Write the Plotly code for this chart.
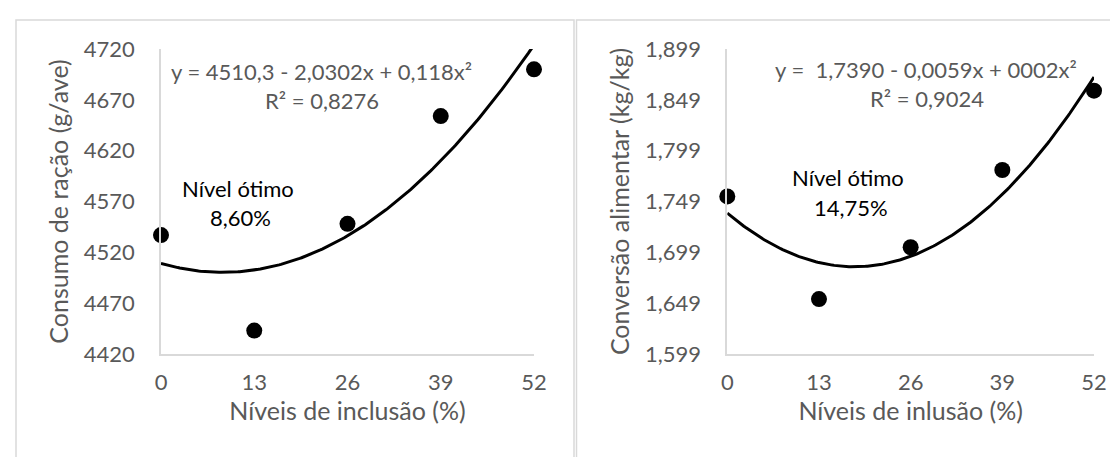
import numpy as np
import plotly.graph_objects as go

# ---- data ----
niveis = [0, 13, 26, 39, 52]
consumo = [4537, 4443, 4548, 4654, 4700]
conversao = [1.754, 1.653, 1.704, 1.780, 1.858]

x_ticks = [0, 13, 26, 39, 52]
y1_ticks = [4420, 4470, 4520, 4570, 4620, 4670, 4720]
y1_ticktext = ["4420", "4470", "4520", "4570", "4620", "4670", "4720"]
y2_ticks = [1.599, 1.649, 1.699, 1.749, 1.799, 1.849, 1.899]
y2_ticktext = ["1,599", "1,649", "1,699", "1,749", "1,799", "1,849", "1,899"]

eq1 = ["y = 4510,3 - 2,0302x + 0,118x²", "R² = 0,8276"]
eq2 = ["y =  1,7390 - 0,0059x + 0002x²", "R² = 0,9024"]
otimo1 = ["Nível ótimo", "8,60%"]
otimo2 = ["Nível ótimo", "14,75%"]

# polynomial (order 2) trendlines fitted to the data, as a spreadsheet does
xs = np.linspace(0, 52, 200)
c1 = np.polyfit(niveis, consumo, 2)
c2 = np.polyfit(niveis, conversao, 2)
trend1 = np.polyval(c1, xs)
trend2 = np.polyval(c2, xs)

W, H = 1118, 457
FONT = "Lato"
GREY = "#595959"
AX = "#d9d9d9"
FS = 22
FT = 25

fig = go.Figure()
for xa, ya, yv, tr in [("x", "y", consumo, trend1), ("x2", "y2", conversao, trend2)]:
    fig.add_trace(go.Scatter(x=xs, y=tr, mode="lines", xaxis=xa, yaxis=ya,
                             line=dict(color="black", width=3), showlegend=False,
                             hoverinfo="skip"))
    fig.add_trace(go.Scatter(x=niveis, y=yv, mode="markers", xaxis=xa, yaxis=ya,
                             marker=dict(color="black", size=16), showlegend=False,
                             cliponaxis=False))

def px(x):
    return x / W

def py(y):
    return 1 - y / H

ydom = [py(346), py(41)]
common_x = dict(range=[0, 52], tickvals=x_ticks, showgrid=False, zeroline=False,
                showline=True, linecolor=AX, linewidth=1.5, ticks="", automargin=False,
                tickfont=dict(family=FONT, size=FS, color=GREY), ticklabelstandoff=8,
                title_font=dict(family=FONT, size=FT, color=GREY), title_standoff=8)
common_y = dict(showgrid=False, zeroline=False, showline=True, linecolor=AX, linewidth=1.5,
                ticks="", automargin=False,
                tickfont=dict(family=FONT, size=FS, color=GREY), ticklabelstandoff=20,
                title_font=dict(family=FONT, size=FT, color=GREY), title_standoff=8)

fig.update_layout(
    width=W, height=H, margin=dict(l=0, r=0, t=0, b=0, autoexpand=False),
    paper_bgcolor="white", plot_bgcolor="white",
    xaxis=dict(domain=[px(153), px(526)], anchor="y",
               title_text="Níveis de inclusão (%)", **common_x),
    yaxis=dict(domain=ydom, anchor="x", range=[4420, 4720], tickvals=y1_ticks,
               ticktext=y1_ticktext, title_text="Consumo de ração (g/ave)", **common_y),
    xaxis2=dict(domain=[px(719.3), px(1086)], anchor="y2",
                title_text="Níveis de inlusão (%)", **common_x),
    yaxis2=dict(domain=ydom, anchor="x2", range=[1.599, 1.899], tickvals=y2_ticks,
                ticktext=y2_ticktext, title_text="Conversão alimentar (kg/kg)", **common_y),
)

# panel borders
fig.add_shape(type="rect", xref="paper", yref="paper", x0=px(8), x1=px(566), y0=py(470), y1=py(12),
              line=dict(color=AX, width=1.5), layer="below")
fig.add_shape(type="rect", xref="paper", yref="paper", x0=px(568.5), x1=px(1130), y0=py(470), y1=py(12),
              line=dict(color=AX, width=1.5), layer="below")

def ann(text, x, y, color):
    fig.add_annotation(text=text, xref="paper", yref="paper", x=px(x), y=py(y),
                       xanchor="center", yanchor="middle", showarrow=False,
                       font=dict(family=FONT, size=FS, color=color))

ann(eq1[0], 313.5, 63.5, GREY)
ann(eq1[1], 313.5, 92.5, GREY)
ann(otimo1[0], 230, 180, "black")
ann(otimo1[1], 232, 209, "black")
ann(eq2[0], 918, 62, GREY)
ann(eq2[1], 919, 90, GREY)
ann(otimo2[0], 839.5, 170, "black")
ann(otimo2[1], 843, 199, "black")

fig.write_html("out.html")
